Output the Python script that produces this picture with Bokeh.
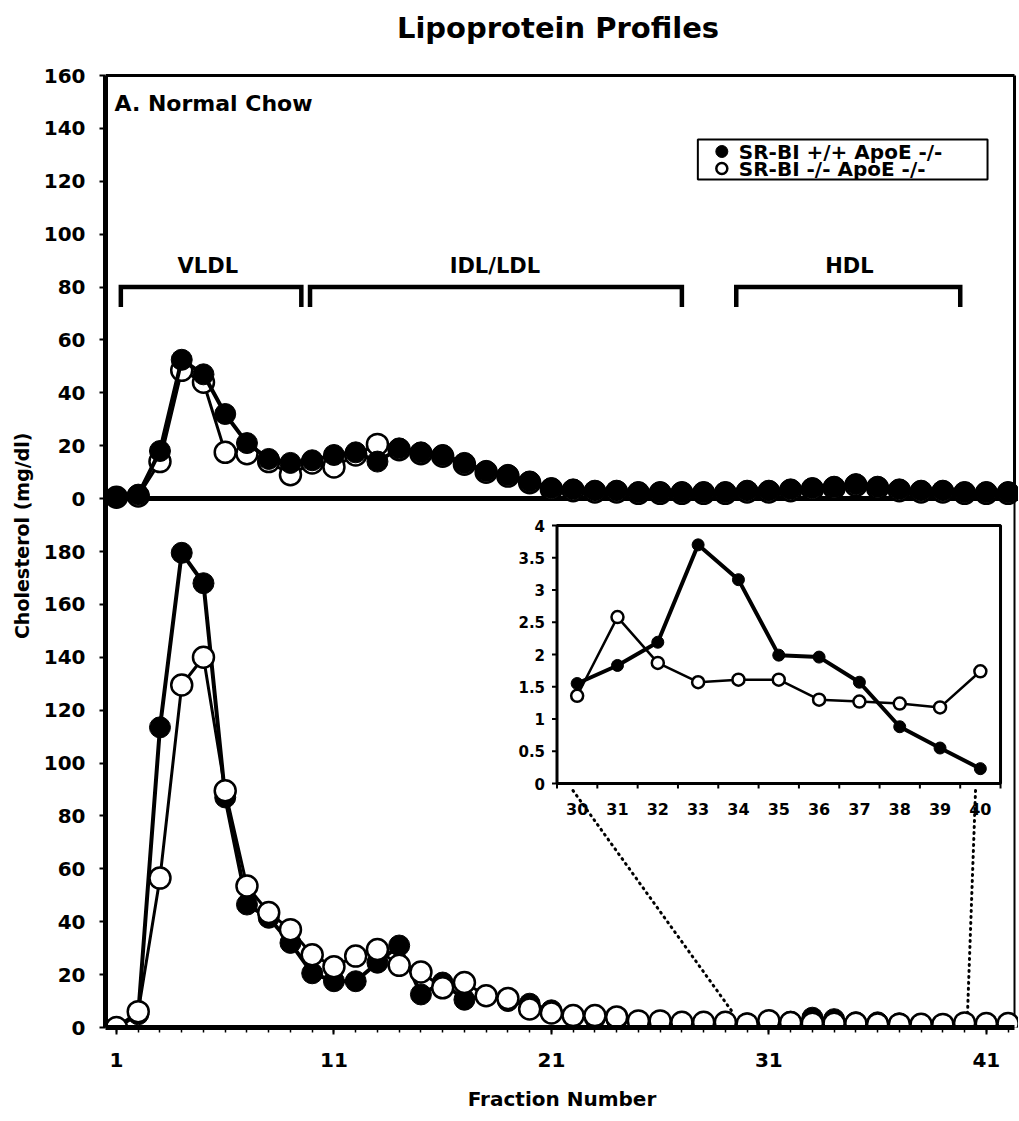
from bokeh.plotting import figure
from bokeh.models import Range1d, FixedTicker, CustomJSTickFormatter, Span, Label, Title
from bokeh.core.properties import value
from bokeh.embed import file_html
from bokeh.resources import INLINE

# ---------------- data (cholesterol, mg/dl) ----------------
fractions = list(range(1, 43))

# Panel A. Normal Chow
chow_srbi_wt = [0.5, 1.5, 18, 52.5, 47, 32, 21, 15, 13.5, 14.5,
                16.5, 17.5, 14, 19, 17.5, 16.5, 13.5, 10.5, 9, 6.5,
                4, 3.5, 3, 3, 2.5, 2.5, 2.5, 2.5, 2.5, 3,
                3, 3.5, 4, 4.5, 5.5, 4.5, 3.5, 3, 3, 2.5,
                2.5, 2.5]
chow_srbi_ko = [0.5, 1, 14, 48.5, 44, 17.5, 17, 14, 9, 13.5,
                12, 16.5, 20.5, 18.5, 17, 16, 13, 10, 8.5, 6,
                3.5, 3, 2.5, 2.5, 2, 2, 2, 2, 2, 2.5,
                2.5, 3, 3.5, 4, 5, 4, 3, 2.5, 2.5, 2,
                2, 2]

# lower panel
lower_srbi_wt = [0, 5, 113.5, 179.5, 168, 87, 46.5, 41.5, 32, 20.5,
                 17.5, 17.5, 24.5, 31, 12.5, 17, 10.5, 12, 10, 9,
                 6.5, 4.5, 3.5, 3, 2, 2, 1.5, 1.5, 1.5, 1.55,
                 1.83, 2.19, 3.70, 3.16, 1.99, 1.96, 1.57, 0.88, 0.55, 0.23,
                 0.5, 0.5]
lower_srbi_ko = [0, 6, 56.5, 129.5, 140, 89.5, 53.5, 43.5, 37, 27.5,
                 23, 27, 29.5, 23.5, 21, 15, 17, 12, 11, 7,
                 5.5, 4.5, 4.5, 4, 2.5, 2.5, 2, 2, 2, 1.36,
                 2.58, 1.87, 1.57, 1.61, 1.61, 1.30, 1.27, 1.24, 1.18, 1.74,
                 1.5, 1.5]

# inset (fractions 30-40 of the lower panel)
inset_fractions = list(range(30, 41))
inset_srbi_wt = [1.55, 1.83, 2.19, 3.70, 3.16, 1.99, 1.96, 1.57, 0.88, 0.55, 0.23]
inset_srbi_ko = [1.36, 2.58, 1.87, 1.57, 1.61, 1.61, 1.30, 1.27, 1.24, 1.18, 1.74]

# ticks / labels
x_ticks = [1, 11, 21, 31, 41]
top_y_ticks = [0, 20, 40, 60, 80, 100, 120, 140, 160]
lower_y_ticks = [0, 20, 40, 60, 80, 100, 120, 140, 160, 180]
inset_y_ticks = [0, 0.5, 1, 1.5, 2, 2.5, 3, 3.5, 4]
inset_y_labels = ["0", "0.5", "1", "1.5", "2", "2.5", "3", "3.5", "4"]
inset_x_labels = [str(v) for v in inset_fractions]
inset_x_tick_pos = [v - 0.5 for v in inset_fractions] + [40.5]

series_names = ["SR-BI +/+ ApoE -/-", "SR-BI -/- ApoE -/-"]
region_names = ["VLDL", "IDL/LDL", "HDL"]
region_start = [1.2, 9.9, 29.5]
region_end = [9.5, 27.0, 39.8]
region_center = [5.2, 18.4, 34.7]

# ---------------- layout (canvas pixels) ----------------
W, H = 1018, 1118
FL, FB = 104, 1027            # frame left / bottom (frame spans to canvas top & right)
BOX_T, BOX_R = 75, 1014       # visible top and right border of the chart box
PX_PER_FRACTION, FRACTION1_PX = 21.77, 115
TOP_OFFSET, TOP_SPAN = 200, 160     # lower panel 0..200, upper panel 0..160 stacked above
K = (FB - BOX_T) / (TOP_OFFSET + TOP_SPAN)   # pixels per mg/dl
X0 = 1 - (FRACTION1_PX - FL) / PX_PER_FRACTION
X1 = X0 + (W - FL) / PX_PER_FRACTION
Y1 = FB / K
IL, IR, IT, IB = 556, 1000, 525, 783          # inset box
IX0, IX1, IY0, IY1 = 29.5, 40.5, 0, 4         # inset data box

FONT = "DejaVu Sans"
INK = "black"


def px_x(px):
    return X0 + (px - FL) / PX_PER_FRACTION


def px_y(py):
    return (FB - py) / K


isx = (IX1 - IX0) / (IR - IL)
isy = (IY1 - IY0) / (IB - IT)

p = figure(width=W, height=H, x_range=Range1d(X0, X1), y_range=Range1d(0, Y1),
           output_backend="svg", toolbar_location=None,
           min_border_left=FL, min_border_right=0, min_border_top=0,
           min_border_bottom=H - FB)
p.extra_y_ranges = {
    "top": Range1d(-TOP_OFFSET, Y1 - TOP_OFFSET),
    "iy": Range1d(IY0 - (FB - IB) * isy, IY1 + IT * isy),
}
p.extra_x_ranges = {"ix": Range1d(IX0 - (IL - FL) * isx, IX1 + (W - IR) * isx)}

p.grid.visible = False
p.background_fill_color = "white"
p.outline_line_color = None

xa = p.xaxis[0]
xa.ticker = FixedTicker(ticks=x_ticks, minor_ticks=fractions)
xa.bounds = (X0, px_x(BOX_R))
xa.axis_line_width = 5
xa.axis_line_color = INK
xa.major_tick_out, xa.major_tick_in, xa.major_tick_line_width = 7, 0, 2
xa.minor_tick_out, xa.minor_tick_in, xa.minor_tick_line_width = 5, 0, 1.5
xa.major_tick_line_color = INK
xa.minor_tick_line_color = INK
xa.major_label_text_font = FONT
xa.major_label_text_font_style = "bold"
xa.major_label_text_font_size = "20px"
xa.major_label_text_color = INK
xa.major_label_standoff = 18
xa.axis_label = "Fraction Number"
xa.axis_label_text_font = FONT
xa.axis_label_text_font_style = "bold"
xa.axis_label_text_font_size = "20px"
xa.axis_label_text_color = INK
xa.axis_label_standoff = 17

ya = p.yaxis[0]
ya.ticker = FixedTicker(ticks=lower_y_ticks + [t + TOP_OFFSET for t in top_y_ticks])
ya.formatter = CustomJSTickFormatter(
    code=f"return String(tick >= {TOP_OFFSET} ? tick - {TOP_OFFSET} : tick);")
ya.bounds = (0, TOP_OFFSET + TOP_SPAN)
ya.axis_line_width = 5
ya.axis_line_color = INK
ya.major_tick_out, ya.major_tick_in, ya.major_tick_line_width = 6, 0, 2
ya.major_tick_line_color = INK
ya.minor_tick_line_color = None
ya.major_label_text_font = FONT
ya.major_label_text_font_style = "bold"
ya.major_label_text_font_size = "20px"
ya.major_label_text_color = INK
ya.major_label_standoff = 14

p.add_layout(Title(text="Cholesterol (mg/dl)", align="right", offset=432, standoff=16,
                   text_font=FONT, text_font_style="bold", text_font_size="19px",
                   text_color=INK), "left")

# panel separator and box borders
p.add_layout(Span(location=TOP_OFFSET, dimension="width", line_color=INK,
                  line_width=5, level="underlay"))
p.segment(x0=[X0, px_x(BOX_R), px_x(BOX_R)], x1=[px_x(BOX_R), px_x(BOX_R), px_x(BOX_R)],
          y0=[TOP_OFFSET + TOP_SPAN, 0, TOP_OFFSET],
          y1=[TOP_OFFSET + TOP_SPAN, TOP_OFFSET, TOP_OFFSET + TOP_SPAN],
          line_color=INK, line_width=[3, 2, 3])

# ---------------- upper panel ----------------
p.line(fractions, chow_srbi_ko, y_range_name="top", line_color=INK, line_width=3)
p.scatter(fractions, chow_srbi_ko, y_range_name="top", size=21, fill_color="white",
          line_color=INK, line_width=2.5)
p.line(fractions, chow_srbi_wt, y_range_name="top", line_color=INK, line_width=4)
p.scatter(fractions, chow_srbi_wt, y_range_name="top", size=21, fill_color=INK,
          line_color=INK)

# lipoprotein class brackets
p.multi_line(xs=[[s, s, e, e] for s, e in zip(region_start, region_end)],
             ys=[[72.5, 80, 80, 72.5] for _ in region_names],
             y_range_name="top", line_color=INK, line_width=4.5, line_join="miter")
p.text(x=region_center, y=[88] * len(region_names), text=region_names, y_range_name="top",
       text_font=value(FONT), text_font_style="bold", text_font_size="21px",
       text_color=INK, text_align="center", text_baseline="middle")

# ---------------- lower panel ----------------
p.line(fractions, lower_srbi_wt, line_color=INK, line_width=4)
p.scatter(fractions, lower_srbi_wt, size=21, fill_color=INK, line_color=INK)
p.line(fractions, lower_srbi_ko, line_color=INK, line_width=3)
p.scatter(fractions, lower_srbi_ko, size=21, fill_color="white", line_color=INK,
          line_width=2.5)

# ---------------- inset ----------------
p.quad(left=IX0, right=IX1, bottom=IY0, top=IY1, x_range_name="ix", y_range_name="iy",
       fill_color="white", line_color=INK, line_width=3)
tick_dx = 5 * isx
tick_dy = 5 * isy
p.segment(x0=[IX0 - tick_dx] * len(inset_y_ticks), x1=[IX0] * len(inset_y_ticks),
          y0=inset_y_ticks, y1=inset_y_ticks, x_range_name="ix", y_range_name="iy",
          line_color=INK, line_width=2)
p.segment(x0=inset_x_tick_pos, x1=inset_x_tick_pos,
          y0=[IY0 - tick_dy] * len(inset_x_tick_pos), y1=[IY0] * len(inset_x_tick_pos),
          x_range_name="ix", y_range_name="iy", line_color=INK, line_width=2)
p.text(x=[IX0 - 12 * isx] * len(inset_y_ticks), y=inset_y_ticks, text=inset_y_labels,
       x_range_name="ix", y_range_name="iy", text_font=value(FONT), text_font_style="bold",
       text_font_size="15px", text_color=INK, text_align="right", text_baseline="middle")
p.text(x=inset_fractions, y=[IY0 - 25 * isy] * len(inset_fractions), text=inset_x_labels,
       x_range_name="ix", y_range_name="iy", text_font=value(FONT), text_font_style="bold",
       text_font_size="16px", text_color=INK, text_align="center", text_baseline="middle")
p.line(inset_fractions, inset_srbi_wt, x_range_name="ix", y_range_name="iy",
       line_color=INK, line_width=4)
p.line(inset_fractions, inset_srbi_ko, x_range_name="ix", y_range_name="iy",
       line_color=INK, line_width=2.5)
p.scatter(inset_fractions, inset_srbi_wt, x_range_name="ix", y_range_name="iy",
          size=12, fill_color=INK, line_color=INK)
p.scatter(inset_fractions, inset_srbi_ko, x_range_name="ix", y_range_name="iy",
          size=12, fill_color="white", line_color=INK, line_width=2.5)

# dotted connectors from inset to the lower panel
p.segment(x0=[px_x(572), px_x(975)], y0=[px_y(790), px_y(790)],
          x1=[px_x(732), px_x(967)], y1=[px_y(1012), px_y(1012)],
          line_color=INK, line_width=3, line_dash="1 5", line_cap="round")

# ---------------- legend ----------------
p.quad(left=px_x(697), right=px_x(987), top=px_y(139), bottom=px_y(179),
       fill_color="white", line_color=INK, line_width=2)
legend_rows = [px_y(151), px_y(168)]
p.scatter([px_x(721)], [legend_rows[0]], size=12, fill_color=INK, line_color=INK)
p.scatter([px_x(721)], [legend_rows[1]], size=11, fill_color="white", line_color=INK,
          line_width=2.5)
p.text(x=[px_x(738)] * 2, y=legend_rows, text=series_names, text_font=value(FONT),
       text_font_style="bold", text_font_size="20px", text_color=INK, text_align="left",
       text_baseline="middle")

# ---------------- titles ----------------
p.add_layout(Label(x=px_x(113), y=px_y(103), text="A. Normal Chow", text_font=FONT,
                   text_font_style="bold", text_font_size="22px", text_color=INK,
                   text_align="left", text_baseline="middle"))
p.add_layout(Label(x=px_x(557), y=px_y(27), text="Lipoprotein Profiles", text_font=FONT,
                   text_font_style="bold", text_font_size="29px", text_color=INK,
                   text_align="center", text_baseline="middle"))

open("out.html", "w").write(file_html(p, INLINE))
